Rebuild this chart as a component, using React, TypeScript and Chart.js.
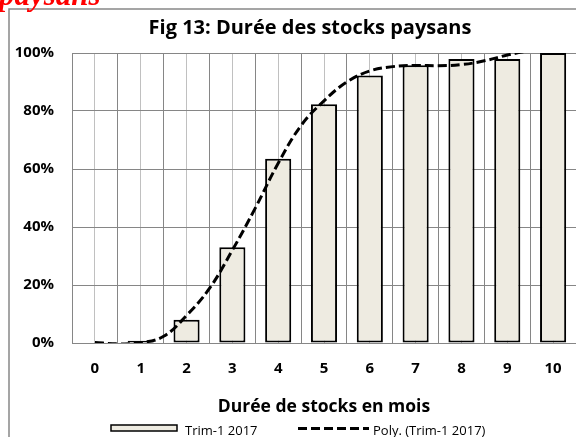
import React, { useEffect, useRef } from "react";
import { Chart, registerables } from "chart.js";

Chart.register(...registerables);

// Data
const durations = [0, 1, 2, 3, 4, 5, 6, 7, 8, 9, 10];
const trimValues = [0, 0.8, 8, 33, 63.5, 82.3, 92.2, 95.8, 97.9, 97.9, 100];
const polyX = [0, 0.5, 1, 1.5, 2, 2.5, 3, 3.5, 4, 4.5, 5, 5.5, 6, 6.5, 7, 7.5, 8, 8.5, 9, 9.5, 10];
const polyY = [0.2, -0.3, 0.1, 2.3, 9.5, 18.8, 32, 46.5, 62, 75, 83.5, 90, 93.8, 95.3, 95.7, 95.6, 96, 97.3, 99.3, 100.8, 102];
const yTicks = [0, 20, 40, 60, 80, 100];

const chartTitle = "Fig 13: Durée des stocks paysans";
const xTitle = "Durée de stocks en mois";
const barLabel = "Trim-1 2017";
const lineLabel = "Poly. (Trim-1 2017)";
const topText = "paysans";

const FONT = '"Open Sans", "DejaVu Sans", sans-serif';
const BAR_FILL = "#EEEBE1";
const GRID_DARK = "#868686";
const GRID_LIGHT = "#c0c0c0";

const decorPlugin = {
  id: "decor",
  beforeDraw(chart: any) {
    const ctx = chart.ctx;
    ctx.save();
    ctx.fillStyle = "#fff";
    ctx.fillRect(0, 0, chart.width, chart.height);
    ctx.strokeStyle = "#888";
    ctx.lineWidth = 1.5;
    ctx.beginPath();
    ctx.moveTo(9, chart.height + 2);
    ctx.lineTo(9, 9);
    ctx.lineTo(chart.width + 2, 9);
    ctx.stroke();
    ctx.restore();
  },
  afterDraw(chart: any) {
    const ctx = chart.ctx;
    const area = chart.chartArea;
    ctx.save();
    // red header fragment
    ctx.fillStyle = "#ff0000";
    ctx.font = 'italic bold 31px "Liberation Serif", serif';
    ctx.textAlign = "left";
    ctx.textBaseline = "alphabetic";
    ctx.fillText(topText, -1, 5);

    // title
    ctx.fillStyle = "#000";
    ctx.font = `bold 20px ${FONT}`;
    ctx.textAlign = "center";
    ctx.fillText(chartTitle, 310, 34);

    // x axis title
    ctx.font = `bold 17.5px ${FONT}`;
    ctx.fillText(xTitle, (area.left + area.right) / 2, 412);

    // legend
    ctx.textAlign = "left";
    ctx.font = `13px ${FONT}`;
    ctx.fillStyle = BAR_FILL;
    ctx.fillRect(111, 425, 66, 6);
    ctx.strokeStyle = "#000";
    ctx.lineWidth = 1.5;
    ctx.strokeRect(111, 425, 66, 6);
    ctx.fillStyle = "#000";
    ctx.fillText(barLabel, 185, 435);

    ctx.beginPath();
    ctx.setLineDash([9, 4]);
    ctx.lineWidth = 3;
    ctx.moveTo(298, 428.5);
    ctx.lineTo(369, 428.5);
    ctx.stroke();
    ctx.setLineDash([]);
    ctx.fillText(lineLabel, 373, 435);
    ctx.restore();
  },
};

export default function App() {
  const ref = useRef<HTMLCanvasElement | null>(null);

  useEffect(() => {
    if (!ref.current) return;
    const chart = new Chart(ref.current, {
      data: {
        datasets: [
          {
            type: "line",
            label: lineLabel,
            data: polyX.map((x, i) => ({ x, y: polyY[i] })),
            borderColor: "#000",
            borderWidth: 3,
            borderDash: [9, 4],
            pointRadius: 0,
            tension: 0.4,
            fill: false,
            order: 0,
          } as any,
          {
            type: "bar",
            label: barLabel,
            data: durations.map((x, i) => ({ x, y: trimValues[i] })),
            backgroundColor: BAR_FILL,
            borderColor: "#000",
            borderWidth: 2,
            borderSkipped: false,
            categoryPercentage: 1,
            barPercentage: 1.14,
            order: 1,
          } as any,
        ],
      },
      options: {
        responsive: false,
        animation: false,
        devicePixelRatio: 1,
        layout: { padding: { top: 53, right: 0, left: 0, bottom: 0 } },
        plugins: {
          legend: { display: false },
          tooltip: { enabled: false },
          title: { display: false },
        },
        scales: {
          x: {
            type: "linear",
            min: -0.5,
            max: 10.5,
            offset: false,
            afterBuildTicks: (s: any) => {
              const t: any[] = [];
              durations.forEach((d) => {
                t.push({ value: d - 0.5 });
                t.push({ value: d });
              });
              t.push({ value: durations[durations.length - 1] + 0.5 });
              s.ticks = t;
            },
            afterFit: (s: any) => {
              s.height = 94;
              s.paddingLeft = 0;
              s.paddingRight = 0;
            },
            ticks: {
              autoSkip: false,
              maxRotation: 0,
              padding: 17,
              color: "#000",
              font: { family: FONT, size: 15, weight: "bold" },
              callback: (v: any) => (Number.isInteger(v) ? String(v) : ""),
            },
            grid: {
              offset: false,
              drawTicks: false,
              color: (c: any) =>
                c.tick && Number.isInteger(c.tick.value) ? GRID_LIGHT : GRID_DARK,
              lineWidth: 1,
            },
            border: { color: GRID_DARK, width: 1 },
          },
          y: {
            min: 0,
            max: 100,
            afterBuildTicks: (s: any) => {
              s.ticks = yTicks.map((v) => ({ value: v }));
            },
            afterFit: (s: any) => {
              s.width = 72;
              s.paddingTop = 0;
              s.paddingBottom = 0;
            },
            ticks: {
              padding: 18,
              color: "#000",
              font: { family: FONT, size: 15, weight: "bold" },
              callback: (v: any) => `${v}%`,
            },
            grid: { drawTicks: false, color: GRID_DARK, lineWidth: 1 },
            border: { color: GRID_DARK, width: 1 },
          },
        },
      } as any,
      plugins: [decorPlugin],
    });
    return () => chart.destroy();
  }, []);

  return (
    <div
      style={{
        position: "fixed",
        left: 0,
        top: 0,
        width: 576,
        height: 437,
        overflow: "hidden",
        background: "#fff",
      }}
    >
      <canvas
        ref={ref}
        width={576}
        height={437}
        style={{ position: "absolute", left: 0, top: 0, width: 576, height: 437 }}
      />
    </div>
  );
}
